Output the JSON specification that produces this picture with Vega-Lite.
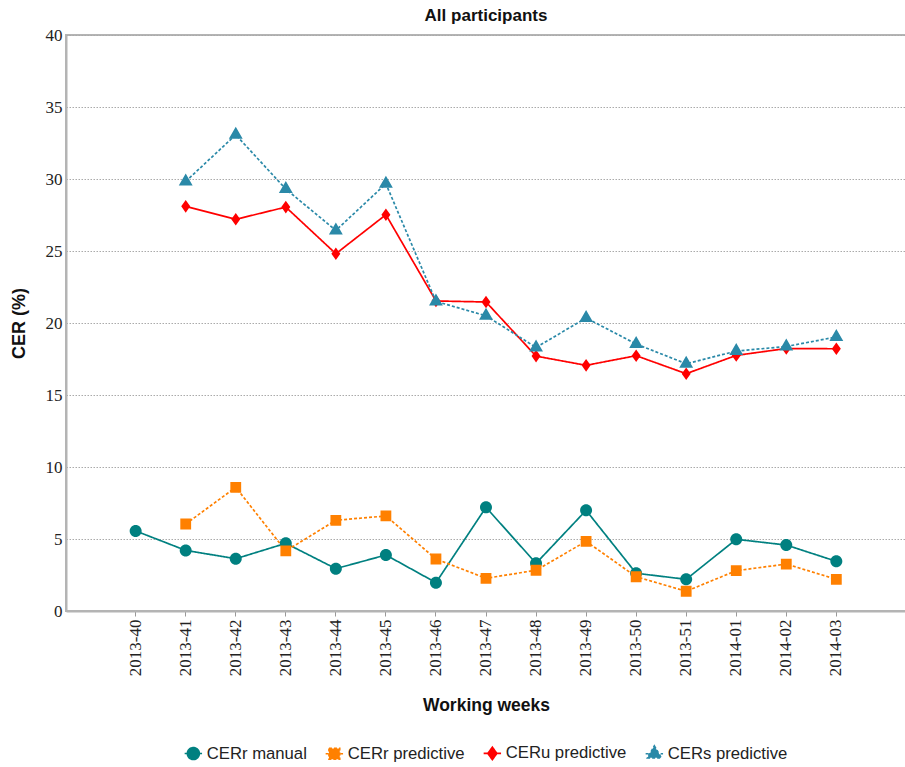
{
  "$schema": "https://vega.github.io/schema/vega-lite/v6.json",
  "autosize": {"type": "none"},
  "padding": {"left": 66, "top": 35, "right": 0, "bottom": 156},
  "width": 840,
  "height": 576,
  "background": "white",
  "title": {
    "text": "All participants",
    "font": "Liberation Sans",
    "fontSize": 17,
    "fontWeight": "bold",
    "color": "#111111",
    "offset": 1,
    "anchor": "middle"
  },
  "data": {
    "values": [
      {"week": "2013-40", "series": "CERr manual", "cer": 5.56},
      {"week": "2013-41", "series": "CERr manual", "cer": 4.21},
      {"week": "2013-42", "series": "CERr manual", "cer": 3.63},
      {"week": "2013-43", "series": "CERr manual", "cer": 4.70},
      {"week": "2013-44", "series": "CERr manual", "cer": 2.94},
      {"week": "2013-45", "series": "CERr manual", "cer": 3.89},
      {"week": "2013-46", "series": "CERr manual", "cer": 1.97},
      {"week": "2013-47", "series": "CERr manual", "cer": 7.20},
      {"week": "2013-48", "series": "CERr manual", "cer": 3.31},
      {"week": "2013-49", "series": "CERr manual", "cer": 6.99},
      {"week": "2013-50", "series": "CERr manual", "cer": 2.62},
      {"week": "2013-51", "series": "CERr manual", "cer": 2.20},
      {"week": "2014-01", "series": "CERr manual", "cer": 4.98},
      {"week": "2014-02", "series": "CERr manual", "cer": 4.58},
      {"week": "2014-03", "series": "CERr manual", "cer": 3.45},

      {"week": "2013-41", "series": "CERr predictive", "cer": 6.04},
      {"week": "2013-42", "series": "CERr predictive", "cer": 8.59},
      {"week": "2013-43", "series": "CERr predictive", "cer": 4.17},
      {"week": "2013-44", "series": "CERr predictive", "cer": 6.30},
      {"week": "2013-45", "series": "CERr predictive", "cer": 6.60},
      {"week": "2013-46", "series": "CERr predictive", "cer": 3.61},
      {"week": "2013-47", "series": "CERr predictive", "cer": 2.27},
      {"week": "2013-48", "series": "CERr predictive", "cer": 2.83},
      {"week": "2013-49", "series": "CERr predictive", "cer": 4.84},
      {"week": "2013-50", "series": "CERr predictive", "cer": 2.38},
      {"week": "2013-51", "series": "CERr predictive", "cer": 1.37},
      {"week": "2014-01", "series": "CERr predictive", "cer": 2.80},
      {"week": "2014-02", "series": "CERr predictive", "cer": 3.26},
      {"week": "2014-03", "series": "CERr predictive", "cer": 2.20},

      {"week": "2013-41", "series": "CERu predictive", "cer": 28.10},
      {"week": "2013-42", "series": "CERu predictive", "cer": 27.20},
      {"week": "2013-43", "series": "CERu predictive", "cer": 28.05},
      {"week": "2013-44", "series": "CERu predictive", "cer": 24.81},
      {"week": "2013-45", "series": "CERu predictive", "cer": 27.52},
      {"week": "2013-46", "series": "CERu predictive", "cer": 21.53},
      {"week": "2013-47", "series": "CERu predictive", "cer": 21.46},
      {"week": "2013-48", "series": "CERu predictive", "cer": 17.70},
      {"week": "2013-49", "series": "CERu predictive", "cer": 17.06},
      {"week": "2013-50", "series": "CERu predictive", "cer": 17.73},
      {"week": "2013-51", "series": "CERu predictive", "cer": 16.48},
      {"week": "2014-01", "series": "CERu predictive", "cer": 17.75},
      {"week": "2014-02", "series": "CERu predictive", "cer": 18.23},
      {"week": "2014-03", "series": "CERu predictive", "cer": 18.21},

      {"week": "2013-41", "series": "CERs predictive", "cer": 29.83},
      {"week": "2013-42", "series": "CERs predictive", "cer": 33.07},
      {"week": "2013-43", "series": "CERs predictive", "cer": 29.30},
      {"week": "2013-44", "series": "CERs predictive", "cer": 26.43},
      {"week": "2013-45", "series": "CERs predictive", "cer": 29.67},
      {"week": "2013-46", "series": "CERs predictive", "cer": 21.50},
      {"week": "2013-47", "series": "CERs predictive", "cer": 20.50},
      {"week": "2013-48", "series": "CERs predictive", "cer": 18.30},
      {"week": "2013-49", "series": "CERs predictive", "cer": 20.35},
      {"week": "2013-50", "series": "CERs predictive", "cer": 18.54},
      {"week": "2013-51", "series": "CERs predictive", "cer": 17.17},
      {"week": "2014-01", "series": "CERs predictive", "cer": 18.05},
      {"week": "2014-02", "series": "CERs predictive", "cer": 18.37},
      {"week": "2014-03", "series": "CERs predictive", "cer": 19.03}
    ]
  },
  "encoding": {
    "x": {
      "field": "week",
      "type": "ordinal",
      "bandPosition": 0.5,
      "scale": {
        "type": "band",
        "paddingInner": 0.216,
        "paddingOuter": 1,
        "domain": ["2013-40", "2013-41", "2013-42", "2013-43", "2013-44", "2013-45", "2013-46", "2013-47", "2013-48", "2013-49", "2013-50", "2013-51", "2014-01", "2014-02", "2014-03"]
      },
      "axis": {
        "title": "Working weeks",
        "titleFont": "Liberation Sans",
        "titleFontSize": 17.5,
        "titleFontWeight": "bold",
        "titleColor": "#111111",
        "titlePadding": 21,
        "labelAngle": -90,
        "labelAlign": "right",
        "labelBaseline": "middle",
        "labelFont": "Liberation Serif",
        "labelFontSize": 17,
        "labelColor": "#222222",
        "labelPadding": 3,
        "bandPosition": 0.5,
        "tickColor": "#999999",
        "tickSize": 5,
        "domainColor": "#b4b4b4",
        "domainWidth": 2,
        "grid": false
      }
    },
    "y": {
      "field": "cer",
      "type": "quantitative",
      "scale": {"domain": [0, 40], "nice": false, "zero": true},
      "axis": {
        "title": "CER (%)",
        "titleFont": "Liberation Sans",
        "titleFontSize": 18,
        "titleFontWeight": "bold",
        "titleColor": "#111111",
        "titleAngle": 270,
        "titleBaseline": "middle",
        "titleX": -47,
        "titleY": 288,
        "values": [0, 5, 10, 15, 20, 25, 30, 35, 40],
        "labelFont": "Liberation Serif",
        "labelFontSize": 17,
        "labelColor": "#222222",
        "labelPadding": 4,
        "ticks": false,
        "domainColor": "#b4b4b4",
        "domainWidth": 2,
        "grid": true,
        "gridColor": "#aaaaaa",
        "gridDash": [1.5, 1.5],
        "gridWidth": 1
      }
    },
    "color": {
      "field": "series",
      "type": "nominal",
      "scale": {
        "domain": ["CERr manual", "CERr predictive", "CERu predictive", "CERs predictive"],
        "range": ["#008080", "#ff8000", "#ff0000", "#2a89a8"]
      },
      "legend": {
        "title": null,
        "orient": "none",
        "legendX": 119,
        "legendY": 710,
        "direction": "horizontal",
        "labelFont": "Liberation Sans",
        "labelFontSize": 16.7,
        "labelColor": "#222222",
        "labelOffset": 5,
        "symbolSize": 144,
        "columnPadding": 15,
        "encode": {
          "symbols": {
            "update": {
              "stroke": {"scale": "color", "field": "value"},
              "strokeWidth": {"value": 1.6},
              "strokeDash": {"signal": "indexof(['CERr predictive', 'CERs predictive'], datum.value) >= 0 ? [3, 2] : [1, 0]"},
              "opacity": {"value": 1}
            }
          }
        }
      }
    }
  },
  "layer": [
    {
      "mark": {"type": "line", "strokeWidth": 1.7},
      "encoding": {
        "strokeDash": {
          "field": "series",
          "type": "nominal",
          "scale": {
            "domain": ["CERr manual", "CERr predictive", "CERu predictive", "CERs predictive"],
            "range": [[1, 0], [3, 2], [1, 0], [3, 2]]
          },
          "legend": null
        }
      }
    },
    {
      "mark": {"type": "point", "filled": true, "opacity": 1, "size": 144},
      "encoding": {
        "shape": {
          "field": "series",
          "type": "nominal",
          "scale": {
            "domain": ["CERr manual", "CERr predictive", "CERu predictive", "CERs predictive"],
            "range": [
              "M-1,0A1,1,0,1,1,1,0A1,1,0,1,1,-1,0ZM-1.45,0H1.45",
              "M-0.9,-0.9H0.9V0.9H-0.9ZM-1.45,0H1.45",
              "M0,-1.05L0.75,0L0,1.05L-0.75,0ZM-1.45,0H1.45",
              "M0,-1.33L1.155,0.67L-1.155,0.67ZM-1.45,0H1.45"
            ]
          },
          "legend": {
            "title": null,
            "orient": "none",
            "legendX": 119,
            "legendY": 710,
            "direction": "horizontal",
            "labelFont": "Liberation Sans",
            "labelFontSize": 16.7,
            "labelColor": "#222222",
            "labelOffset": 5,
            "symbolSize": 144,
            "columnPadding": 15,
            "encode": {
              "symbols": {
                "update": {
                  "stroke": {"scale": "color", "field": "value"},
                  "strokeWidth": {"value": 1.6},
                  "strokeDash": {"signal": "indexof(['CERr predictive', 'CERs predictive'], datum.value) >= 0 ? [3, 2] : [1, 0]"},
                  "opacity": {"value": 1}
                }
              }
            }
          }
        }
      }
    }
  ],
  "config": {
    "view": {"stroke": "#b4b4b4", "strokeWidth": 2}
  }
}
